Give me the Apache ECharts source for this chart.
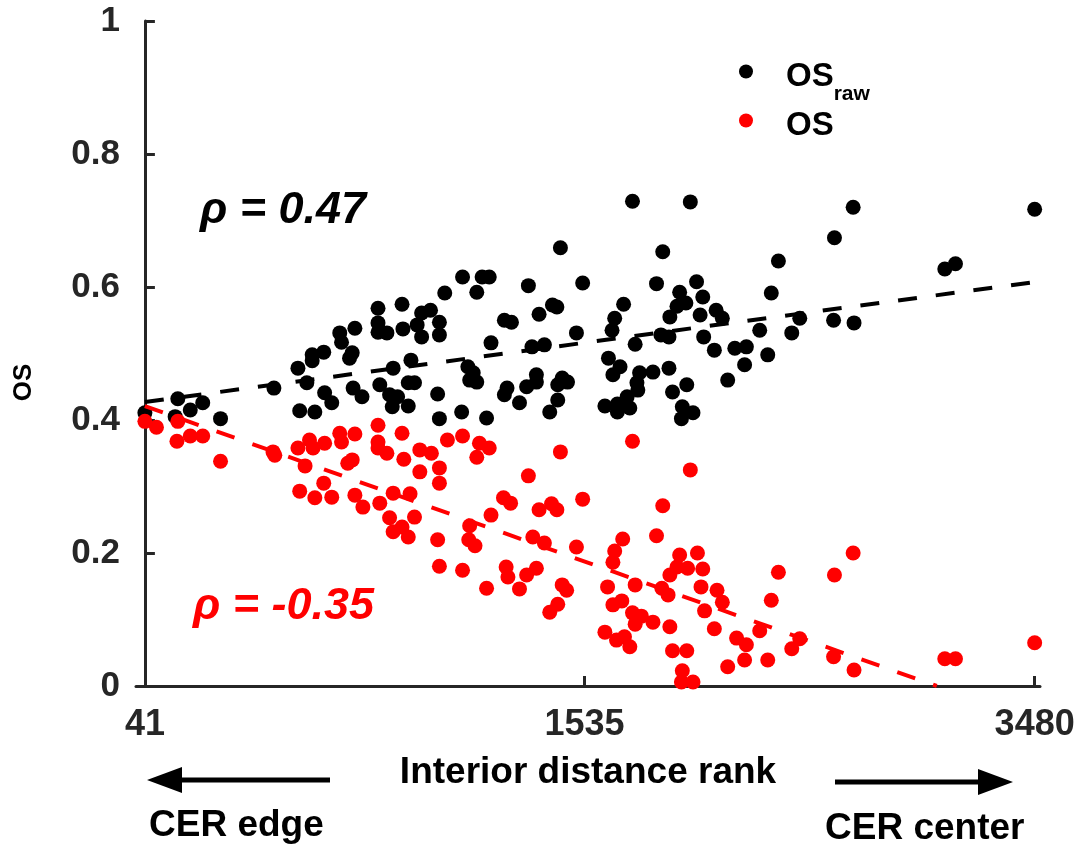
<!DOCTYPE html>
<html><head><meta charset="utf-8">
<script src="https://cdn.jsdelivr.net/npm/echarts@6/dist/echarts.min.js"></script>
<style>html,body{margin:0;padding:0;background:#fff}#c{width:1082px;height:848px}</style>
</head><body><div id="c"></div>
<script>
// x coordinate: position along interior-distance rank (0 = rank of 41, 100 = rank of 3480)
const xTickPos = [0, 49.4, 100];
const xTickLabels = ['41', '1535', '3480'];

const osRaw = [[0,0.411],[3.4,0.405],[3.7,0.432],[5.1,0.415],[6.5,0.426],[8.5,0.402],[14.5,0.448],[17.2,0.478],[17.4,0.414],[18.2,0.456],[18.8,0.498],[18.8,0.489],[19.1,0.412],[20.1,0.502],[20.2,0.441],[21.0,0.426],[21.9,0.531],[22.1,0.517],[23.0,0.493],[23.3,0.501],[23.4,0.448],[23.6,0.538],[24.4,0.435],[26.2,0.568],[26.2,0.546],[26.2,0.532],[26.4,0.453],[27.2,0.531],[27.5,0.438],[27.8,0.420],[27.9,0.478],[28.4,0.435],[28.9,0.574],[29.0,0.537],[29.6,0.456],[29.6,0.421],[29.9,0.490],[30.3,0.456],[30.6,0.543],[31.1,0.561],[31.1,0.525],[32.1,0.565],[33.1,0.547],[33.1,0.528],[32.9,0.439],[33.1,0.402],[33.7,0.591],[35.7,0.615],[37.9,0.615],[38.7,0.615],[37.3,0.592],[35.6,0.412],[36.3,0.480],[36.9,0.471],[36.5,0.460],[37.3,0.457],[38.4,0.403],[38.9,0.516],[40.4,0.550],[41.2,0.547],[40.4,0.438],[40.7,0.448],[42.1,0.426],[42.9,0.450],[43.1,0.602],[43.5,0.510],[44.0,0.468],[44.0,0.457],[44.3,0.559],[44.9,0.513],[45.5,0.412],[45.8,0.573],[46.3,0.570],[46.4,0.453],[46.4,0.430],[46.7,0.659],[46.9,0.463],[47.5,0.457],[48.5,0.531],[49.2,0.606],[51.7,0.421],[52.1,0.493],[52.5,0.535],[52.6,0.468],[52.8,0.553],[53.1,0.424],[53.1,0.412],[53.4,0.480],[53.8,0.574],[54.2,0.435],[54.5,0.418],[54.8,0.729],[55.1,0.514],[55.3,0.456],[55.4,0.445],[55.6,0.471],[57.1,0.472],[57.5,0.605],[58.0,0.528],[58.2,0.653],[58.9,0.525],[58.9,0.478],[59.0,0.555],[59.3,0.442],[59.8,0.571],[60.1,0.592],[60.4,0.420],[60.3,0.402],[60.8,0.576],[60.9,0.453],[61.3,0.728],[61.6,0.411],[62.0,0.608],[62.4,0.558],[62.7,0.585],[62.8,0.525],[64.0,0.505],[64.2,0.565],[64.9,0.553],[65.5,0.460],[66.3,0.508],[67.6,0.510],[67.4,0.483],[69.1,0.535],[70.0,0.498],[70.4,0.591],[71.2,0.639],[72.7,0.531],[73.6,0.553],[77.4,0.550],[77.5,0.674],[79.6,0.720],[79.7,0.546],[89.9,0.627],[91.1,0.635],[100,0.717]];

const os = [[0,0.398],[1.3,0.389],[3.7,0.398],[3.6,0.368],[5.1,0.376],[6.5,0.376],[8.5,0.338],[14.4,0.352],[14.6,0.347],[17.2,0.358],[17.4,0.293],[18.0,0.331],[18.5,0.370],[18.9,0.358],[19.1,0.283],[20.1,0.305],[20.2,0.365],[21.0,0.284],[21.9,0.380],[22.1,0.367],[22.8,0.335],[23.3,0.340],[23.6,0.379],[23.6,0.287],[24.5,0.269],[26.2,0.392],[26.2,0.367],[26.2,0.358],[26.4,0.275],[27.2,0.350],[27.5,0.253],[27.9,0.290],[27.9,0.232],[28.9,0.380],[28.9,0.239],[29.1,0.341],[29.6,0.224],[29.8,0.289],[30.3,0.254],[30.9,0.355],[30.9,0.322],[32.2,0.350],[33.1,0.328],[33.1,0.305],[32.9,0.220],[33.1,0.180],[34.0,0.370],[35.7,0.376],[37.6,0.365],[38.7,0.358],[37.3,0.344],[35.7,0.174],[36.5,0.241],[36.4,0.220],[37.1,0.211],[38.4,0.147],[38.9,0.257],[40.3,0.283],[41.1,0.275],[40.6,0.179],[40.8,0.164],[42.1,0.146],[42.9,0.167],[43.1,0.316],[43.6,0.224],[44.0,0.177],[44.3,0.265],[44.9,0.215],[45.7,0.274],[46.3,0.265],[45.5,0.111],[46.4,0.123],[46.7,0.352],[46.9,0.152],[47.4,0.144],[48.5,0.209],[49.2,0.281],[51.7,0.081],[52.0,0.149],[52.6,0.186],[52.6,0.122],[52.8,0.203],[53.0,0.069],[53.6,0.128],[53.7,0.221],[53.9,0.074],[54.5,0.059],[54.8,0.368],[54.8,0.110],[55.1,0.152],[55.1,0.093],[55.8,0.105],[57.1,0.096],[57.5,0.226],[58.1,0.147],[58.2,0.271],[58.8,0.137],[59.0,0.167],[59.0,0.089],[59.3,0.053],[59.8,0.179],[60.1,0.197],[60.3,0.006],[60.4,0.023],[60.9,0.053],[61.0,0.177],[61.3,0.325],[61.6,0.006],[62.1,0.200],[62.5,0.149],[62.7,0.176],[62.9,0.113],[64.0,0.086],[64.3,0.144],[64.9,0.126],[65.5,0.029],[66.5,0.072],[67.6,0.062],[67.4,0.039],[69.1,0.083],[70.0,0.039],[70.4,0.129],[71.2,0.171],[72.7,0.056],[73.6,0.071],[77.4,0.044],[77.5,0.167],[79.6,0.200],[79.7,0.024],[89.9,0.041],[91.1,0.041],[100,0.065]];

const fitRaw = [[0,0.427],[100,0.6075]];
const fitOS = [[0,0.421],[89,0]];
const rhoRawText = 'ρ = 0.47';
const rhoOSText = 'ρ = -0.35';

const FF = '"Liberation Sans", Arial, sans-serif';
const AX = '#262626';
const chart = echarts.init(document.getElementById('c'), null, {renderer:'canvas'});

const legendRich = {
  m: {fontSize:33, fontWeight:'bold', fontFamily:FF, color:'#000', lineHeight:36, padding:[10,0,0,28]},
  s: {fontSize:21, fontWeight:'bold', fontFamily:FF, color:'#000', lineHeight:24, padding:[46,0,0,0]}
};

function nearestLabel(v){
  let best = 0;
  for (let i = 1; i < xTickPos.length; i++) if (Math.abs(xTickPos[i]-v) < Math.abs(xTickPos[best]-v)) best = i;
  return xTickLabels[best];
}

chart.setOption({
  animation:false,
  backgroundColor:'#fff',
  grid:{left:136, right:42, top:21, bottom:162, containLabel:false, outerBoundsMode:'none'},
  legend:[
    {data:['OSraw'], left:739, top:38, padding:0, itemWidth:14, itemHeight:14, icon:'circle', selectedMode:false,
     formatter:() => '{m|OS}{s|raw}', textStyle:{rich:legendRich}},
    {data:['OS'], left:739, top:99, padding:0, itemWidth:14, itemHeight:14, icon:'circle', selectedMode:false,
     formatter:() => '{m|OS}', textStyle:{rich:legendRich}}
  ],
  xAxis:{
    type:'value', min:-1, max:100.6,
    axisLine:{show:true, onZero:false, lineStyle:{color:AX, width:3}},
    axisTick:{show:true, inside:true, length:10, customValues:xTickPos, lineStyle:{color:AX, width:3}},
    axisLabel:{customValues:xTickPos, formatter:nearestLabel, fontSize:36, lineHeight:36, fontWeight:'bold', color:AX, fontFamily:FF, margin:21},
    splitLine:{show:false},
    name:'Interior distance rank', nameLocation:'middle', nameGap:68,
    nameTextStyle:{fontSize:37, fontWeight:'bold', color:'#000', fontFamily:FF}
  },
  yAxis:{
    type:'value', min:0, max:1, interval:0.2,
    axisLine:{show:true, lineStyle:{color:AX, width:3}},
    axisTick:{show:true, inside:true, length:10, lineStyle:{color:AX, width:3}},
    axisLabel:{fontSize:35, fontWeight:'bold', color:AX, fontFamily:FF, margin:16,
      formatter:v => String(Math.round(v*10)/10)},
    splitLine:{show:false},
    name:'OS', nameLocation:'middle', nameGap:99, nameRotate:90,
    nameTextStyle:{fontSize:26, fontWeight:'bold', color:'#000', fontFamily:FF, padding:[0,58,0,0]}
  },
  series:[
    {type:'scatter', name:'OSraw', data:osRaw, symbol:'circle', symbolSize:15, itemStyle:{color:'#000', opacity:1}, z:2},
    {type:'scatter', name:'OS', data:os, symbol:'circle', symbolSize:15, itemStyle:{color:'#ff0000', opacity:1}, z:3},
    {type:'line', name:'fitRaw', data:fitRaw, symbol:'none', silent:true, lineStyle:{color:'#000', width:4, type:[19,19], cap:'butt'}, z:4},
    {type:'line', name:'fitOS', data:fitOS, symbol:'none', silent:true, lineStyle:{color:'#ff0000', width:4, type:[19,19], cap:'butt'}, z:5}
  ],
  graphic:[
    {type:'text', x:200, y:211, z:10, style:{text:rhoRawText, fill:'#000', font:'italic bold 45px ' + FF, align:'left', verticalAlign:'middle'}},
    {type:'text', x:193, y:607, z:10, style:{text:rhoOSText, fill:'#ff0000', font:'italic bold 45px ' + FF, align:'left', verticalAlign:'middle'}},
    {type:'line', shape:{x1:180, y1:780, x2:330, y2:780}, style:{stroke:'#000', lineWidth:5}},
    {type:'polygon', shape:{points:[[147,780],[182,767],[182,793]]}, style:{fill:'#000'}},
    {type:'line', shape:{x1:835, y1:782, x2:980, y2:782}, style:{stroke:'#000', lineWidth:5}},
    {type:'polygon', shape:{points:[[1013,782],[978,769],[978,795]]}, style:{fill:'#000'}},
    {type:'text', x:149, y:826, style:{text:'CER edge', fill:'#000', font:'bold 37px ' + FF, align:'left', verticalAlign:'middle'}},
    {type:'text', x:825, y:829, style:{text:'CER center', fill:'#000', font:'bold 37px ' + FF, align:'left', verticalAlign:'middle'}}
  ]
});
</script>
</body></html>
